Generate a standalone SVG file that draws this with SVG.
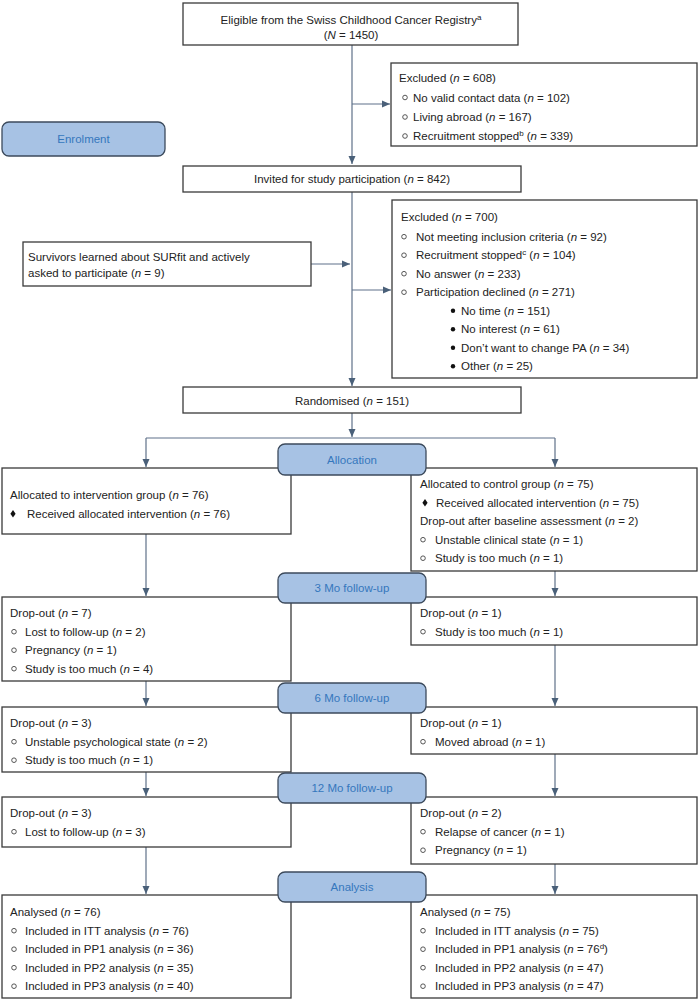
<svg xmlns="http://www.w3.org/2000/svg" width="700" height="1000" viewBox="0 0 700 1000">
<style>
.box{fill:#fff;stroke:#3a3a3a;stroke-width:1.3}
.stage{fill:#a7c2e4;stroke:#3c4a5c;stroke-width:1.3}
text{font-family:"Liberation Sans",Arial,sans-serif;font-size:11.5px;fill:#222}
.c{text-anchor:middle}
.st{text-anchor:middle;fill:#3577bd}
.ob{fill:#fff;stroke:#444;stroke-width:0.9}
.fb{fill:#111}
.conn path{stroke:#5f7189;stroke-width:1.2;fill:none}
i{font-style:italic}
</style>
<defs>
<marker id="ah" markerWidth="8" markerHeight="8" refX="8" refY="4" orient="auto" markerUnits="userSpaceOnUse"><path d="M0,0.5 L8,4 L0,7.5 z" fill="#4a6079"/></marker>
</defs>
<rect width="700" height="1000" fill="#fff"/>

<g class="conn">
<path d="M352,45 V164" marker-end="url(#ah)"/>
<path d="M352,104 H390" marker-end="url(#ah)"/>
<path d="M352,192 V386" marker-end="url(#ah)"/>
<path d="M311,264 H350" marker-end="url(#ah)"/>
<path d="M352,290 H391" marker-end="url(#ah)"/>
<path d="M352,413 V437" marker-end="url(#ah)"/>
<path d="M146,438 H555"/>
<path d="M146,438 V467" marker-end="url(#ah)"/>
<path d="M555,438 V467" marker-end="url(#ah)"/>
<path d="M146,534 V596" marker-end="url(#ah)"/>
<path d="M555,571 V596" marker-end="url(#ah)"/>
<path d="M146,681 V706" marker-end="url(#ah)"/>
<path d="M555,645 V706" marker-end="url(#ah)"/>
<path d="M146,772 V796" marker-end="url(#ah)"/>
<path d="M555,754 V796" marker-end="url(#ah)"/>
<path d="M146,847 V894" marker-end="url(#ah)"/>
<path d="M555,864 V894" marker-end="url(#ah)"/>
</g>

<g id="eligible">
<rect class="box" x="183" y="3" width="335" height="42"/>
<text class="c" x="351" y="24">Eligible from the Swiss Childhood Cancer Registry<tspan font-size="8" dy="-4">a</tspan></text>
<text class="c" x="351" y="39">(<tspan font-style="italic">N</tspan> = 1450)</text>
</g>

<g id="excluded1">
<rect class="box" x="391" y="63" width="306" height="83"/>
<text x="399" y="82">Excluded (<tspan font-style="italic">n</tspan> = 608)</text>
<circle class="ob" cx="405" cy="97.5" r="2.3"/>
<text x="413" y="101.5">No valid contact data (<tspan font-style="italic">n</tspan> = 102)</text>
<circle class="ob" cx="405" cy="117" r="2.3"/>
<text x="413" y="121">Living abroad (<tspan font-style="italic">n</tspan> = 167)</text>
<circle class="ob" cx="405" cy="136" r="2.3"/>
<text x="413" y="140">Recruitment stopped<tspan font-size="8" dy="-4">b</tspan><tspan dy="4"> (</tspan><tspan font-style="italic">n</tspan> = 339)</text>
</g>

<g id="enrolment">
<rect class="stage" x="2" y="122" width="163" height="34" rx="7"/>
<text class="st" x="83.5" y="143">Enrolment</text>
</g>

<g id="invited">
<rect class="box" x="183" y="166" width="338" height="26"/>
<text class="c" x="352" y="183">Invited for study participation (<tspan font-style="italic">n</tspan> = 842)</text>
</g>

<g id="survivors">
<rect class="box" x="23" y="242" width="288" height="44"/>
<text x="28" y="261">Survivors learned about SURfit and actively</text>
<text x="28" y="277">asked to participate (<tspan font-style="italic">n</tspan> = 9)</text>
</g>

<g id="excluded2">
<rect class="box" x="392" y="200" width="305" height="178"/>
<text x="401" y="221">Excluded (<tspan font-style="italic">n</tspan> = 700)</text>
<circle class="ob" cx="404" cy="236.7" r="2.3"/>
<text x="416" y="240.5">Not meeting inclusion criteria (<tspan font-style="italic">n</tspan> = 92)</text>
<circle class="ob" cx="404" cy="255.2" r="2.3"/>
<text x="416" y="259">Recruitment stopped<tspan font-size="8" dy="-4">c</tspan><tspan dy="4"> (</tspan><tspan font-style="italic">n</tspan> = 104)</text>
<circle class="ob" cx="404" cy="273.7" r="2.3"/>
<text x="416" y="277.5">No answer (<tspan font-style="italic">n</tspan> = 233)</text>
<circle class="ob" cx="404" cy="292.2" r="2.3"/>
<text x="416" y="296">Participation declined (<tspan font-style="italic">n</tspan> = 271)</text>
<circle class="fb" cx="453" cy="310.7" r="2.2"/>
<text x="461" y="314.5">No time (<tspan font-style="italic">n</tspan> = 151)</text>
<circle class="fb" cx="453" cy="329.2" r="2.2"/>
<text x="461" y="333">No interest (<tspan font-style="italic">n</tspan> = 61)</text>
<circle class="fb" cx="453" cy="347.7" r="2.2"/>
<text x="461" y="351.5">Don’t want to change PA (<tspan font-style="italic">n</tspan> = 34)</text>
<circle class="fb" cx="453" cy="366.2" r="2.2"/>
<text x="461" y="370">Other (<tspan font-style="italic">n</tspan> = 25)</text>
</g>

<g id="randomised">
<rect class="box" x="183" y="387" width="338" height="26"/>
<text class="c" x="352" y="405">Randomised (<tspan font-style="italic">n</tspan> = 151)</text>
</g>

<g id="alloc-intervention">
<rect class="box" x="2" y="468" width="289" height="66"/>
<text x="10" y="499">Allocated to intervention group (<tspan font-style="italic">n</tspan> = 76)</text>
<path class="fb" d="M13,510 L15.6,513.7 L13,517.4 L10.4,513.7 z"/>
<text x="27" y="517.5">Received allocated intervention (<tspan font-style="italic">n</tspan> = 76)</text>
</g>

<g id="alloc-control">
<rect class="box" x="411" y="468" width="286" height="103"/>
<text x="420" y="488">Allocated to control group (<tspan font-style="italic">n</tspan> = 75)</text>
<path class="fb" d="M425,499 L427.6,502.7 L425,506.4 L422.4,502.7 z"/>
<text x="436" y="506.5">Received allocated intervention (<tspan font-style="italic">n</tspan> = 75)</text>
<text x="420" y="525">Drop-out after baseline assessment (<tspan font-style="italic">n</tspan> = 2)</text>
<circle class="ob" cx="423" cy="539.7" r="2.3"/>
<text x="435" y="543.5">Unstable clinical state (<tspan font-style="italic">n</tspan> = 1)</text>
<circle class="ob" cx="423" cy="558.2" r="2.3"/>
<text x="435" y="562">Study is too much (<tspan font-style="italic">n</tspan> = 1)</text>
</g>

<g id="fu3-intervention">
<rect class="box" x="2" y="597" width="289" height="84"/>
<text x="10" y="617">Drop-out (<tspan font-style="italic">n</tspan> = 7)</text>
<circle class="ob" cx="14" cy="631.7" r="2.3"/>
<text x="25" y="635.5">Lost to follow-up (<tspan font-style="italic">n</tspan> = 2)</text>
<circle class="ob" cx="14" cy="650.2" r="2.3"/>
<text x="25" y="654">Pregnancy (<tspan font-style="italic">n</tspan> = 1)</text>
<circle class="ob" cx="14" cy="668.7" r="2.3"/>
<text x="25" y="672.5">Study is too much (<tspan font-style="italic">n</tspan> = 4)</text>
</g>

<g id="fu3-control">
<rect class="box" x="411" y="597" width="286" height="48"/>
<text x="420" y="617">Drop-out (<tspan font-style="italic">n</tspan> = 1)</text>
<circle class="ob" cx="423" cy="631.7" r="2.3"/>
<text x="435" y="635.5">Study is too much (<tspan font-style="italic">n</tspan> = 1)</text>
</g>

<g id="fu6-intervention">
<rect class="box" x="2" y="707" width="289" height="65"/>
<text x="10" y="727">Drop-out (<tspan font-style="italic">n</tspan> = 3)</text>
<circle class="ob" cx="14" cy="741.7" r="2.3"/>
<text x="25" y="745.5">Unstable psychological state (<tspan font-style="italic">n</tspan> = 2)</text>
<circle class="ob" cx="14" cy="760.2" r="2.3"/>
<text x="25" y="764">Study is too much (<tspan font-style="italic">n</tspan> = 1)</text>
</g>

<g id="fu6-control">
<rect class="box" x="411" y="707" width="286" height="47"/>
<text x="420" y="727">Drop-out (<tspan font-style="italic">n</tspan> = 1)</text>
<circle class="ob" cx="423" cy="741.7" r="2.3"/>
<text x="435" y="745.5">Moved abroad (<tspan font-style="italic">n</tspan> = 1)</text>
</g>

<g id="fu12-intervention">
<rect class="box" x="2" y="797" width="289" height="50"/>
<text x="10" y="817">Drop-out (<tspan font-style="italic">n</tspan> = 3)</text>
<circle class="ob" cx="14" cy="831.7" r="2.3"/>
<text x="25" y="835.5">Lost to follow-up (<tspan font-style="italic">n</tspan> = 3)</text>
</g>

<g id="fu12-control">
<rect class="box" x="411" y="797" width="286" height="67"/>
<text x="420" y="817">Drop-out (<tspan font-style="italic">n</tspan> = 2)</text>
<circle class="ob" cx="423" cy="831.7" r="2.3"/>
<text x="435" y="835.5">Relapse of cancer (<tspan font-style="italic">n</tspan> = 1)</text>
<circle class="ob" cx="423" cy="850.2" r="2.3"/>
<text x="435" y="854">Pregnancy (<tspan font-style="italic">n</tspan> = 1)</text>
</g>

<g id="analysis-intervention">
<rect class="box" x="2" y="895" width="289" height="103"/>
<text x="10" y="916">Analysed (<tspan font-style="italic">n</tspan> = 76)</text>
<circle class="ob" cx="14" cy="930.7" r="2.3"/>
<text x="25" y="934.5">Included in ITT analysis (<tspan font-style="italic">n</tspan> = 76)</text>
<circle class="ob" cx="14" cy="949.2" r="2.3"/>
<text x="25" y="953">Included in PP1 analysis (<tspan font-style="italic">n</tspan> = 36)</text>
<circle class="ob" cx="14" cy="967.7" r="2.3"/>
<text x="25" y="971.5">Included in PP2 analysis (<tspan font-style="italic">n</tspan> = 35)</text>
<circle class="ob" cx="14" cy="986.2" r="2.3"/>
<text x="25" y="990">Included in PP3 analysis (<tspan font-style="italic">n</tspan> = 40)</text>
</g>

<g id="analysis-control">
<rect class="box" x="411" y="895" width="286" height="103"/>
<text x="420" y="916">Analysed (<tspan font-style="italic">n</tspan> = 75)</text>
<circle class="ob" cx="423" cy="930.7" r="2.3"/>
<text x="435" y="934.5">Included in ITT analysis (<tspan font-style="italic">n</tspan> = 75)</text>
<circle class="ob" cx="423" cy="949.2" r="2.3"/>
<text x="435" y="953">Included in PP1 analysis (<tspan font-style="italic">n</tspan> = 76<tspan font-size="8" dy="-4">d</tspan><tspan dy="4">)</tspan></text>
<circle class="ob" cx="423" cy="967.7" r="2.3"/>
<text x="435" y="971.5">Included in PP2 analysis (<tspan font-style="italic">n</tspan> = 47)</text>
<circle class="ob" cx="423" cy="986.2" r="2.3"/>
<text x="435" y="990">Included in PP3 analysis (<tspan font-style="italic">n</tspan> = 47)</text>
</g>

<g id="stage-allocation">
<rect class="stage" x="278" y="444" width="148" height="31" rx="7"/>
<text class="st" x="352" y="463.5">Allocation</text>
</g>
<g id="stage-3mo">
<rect class="stage" x="278" y="573" width="148" height="30" rx="7"/>
<text class="st" x="352" y="592">3 Mo follow-up</text>
</g>
<g id="stage-6mo">
<rect class="stage" x="278" y="683" width="148" height="30" rx="7"/>
<text class="st" x="352" y="702">6 Mo follow-up</text>
</g>
<g id="stage-12mo">
<rect class="stage" x="278" y="773" width="148" height="30" rx="7"/>
<text class="st" x="352" y="792">12 Mo follow-up</text>
</g>
<g id="stage-analysis">
<rect class="stage" x="278" y="872" width="148" height="30" rx="7"/>
<text class="st" x="352" y="891">Analysis</text>
</g>
</svg>
